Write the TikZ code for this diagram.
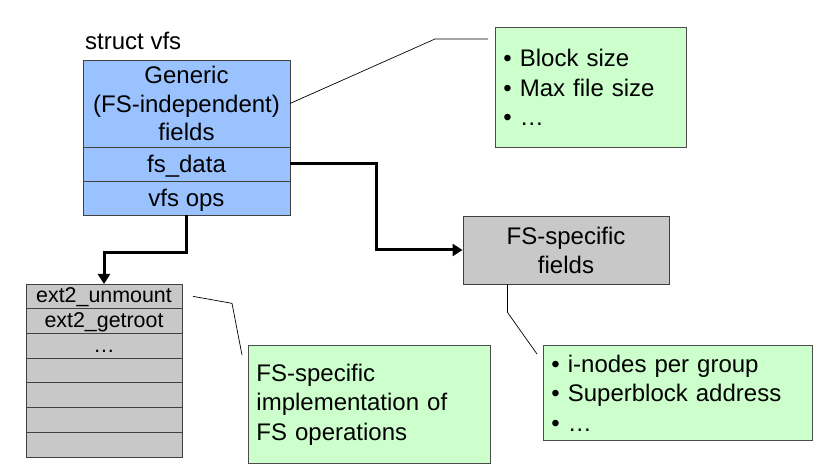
\documentclass[tikz,border=0pt]{standalone}
\usepackage{fontspec}
\setmainfont{Liberation Sans}
\usetikzlibrary{arrows.meta, positioning}

\definecolor{vfsblue}{RGB}{153,194,255}
\definecolor{notegreen}{RGB}{204,255,204}
\definecolor{fsgray}{RGB}{200,200,200}

\begin{document}
\begin{tikzpicture}[
    x=1pt, y=1pt,
    field/.style={rectangle, draw=black!75, line width=0.9pt, fill=vfsblue, minimum width=207pt, inner sep=0pt, outer sep=0pt, align=center, font=\fontsize{24}{28.5}\selectfont},
    oprow/.style={rectangle, draw=black!75, line width=0.8pt, fill=fsgray, minimum width=156pt, minimum height=24.7pt, inner sep=0pt, outer sep=0pt, text height=16pt, text depth=3pt, font=\fontsize{21.4}{24}\selectfont},
    spec/.style={rectangle, draw=black!75, line width=0.9pt, fill=fsgray, minimum width=206pt, minimum height=68pt, inner sep=0pt, align=center, font=\fontsize{24}{29}\selectfont},
    note/.style={rectangle, draw=black!70, line width=0.9pt, fill=notegreen, anchor=north west, inner xsep=8pt, inner ysep=0pt, align=left, font=\fontsize{24}{29.5}\selectfont},
    link/.style={line width=3pt, -{Triangle[length=10pt,width=12pt]}},
    callout/.style={line width=0.7pt}
]
\useasboundingbox (0,0) rectangle (825,469);

% struct vfs
\node[field, minimum height=87pt] (generic) at (186.5,365.5) {Generic\\(FS-independent)\\fields};
\node[field, minimum height=34pt, text height=20pt, text depth=2pt, below=0pt of generic] (fsdata) {fs\_data};
\node[field, minimum height=34pt, text height=20pt, text depth=2pt, below=0pt of fsdata] (vfsops) {vfs ops};
\node[anchor=base west, inner sep=0pt, font=\fontsize{24}{28}\selectfont] (title) at ([xshift=2pt,yshift=10pt]generic.north west) {struct vfs};

% operations table
\node[oprow] (op1) at (104,172.65) {ext2\_unmount};
\node[oprow, below=0pt of op1] (op2) {ext2\_getroot};
\node[oprow, below=0pt of op2] (op3) {…};
\foreach \i [count=\j from 3] in {4,...,7}
    \node[oprow, below=0pt of op\j] (op\i) {};

% FS-specific fields
\node[spec] (fsspec) at (566,219) {FS-specific\\fields};

% notes
\node[note, minimum height=120pt, text width=175pt] (blocknote) at (495,442) {• Block size\\• Max file size\\• …};
\node[note, minimum height=95pt, text width=253pt] (inodenote) at (543,124) {• i-nodes per group\\• Superblock address\\• …};
\node[note, minimum height=118pt, text width=226pt] (implnote) at (248,124) {FS-specific\\implementation of\\FS operations};

% Arrows
\draw[link] (vfsops.south) -- ++(0,-38) -| (op1.north);
\draw[link] (fsdata.east) -- ++(86,0) |- (fsspec.west);

% callouts
\draw[callout] (generic.east) -- ([xshift=-60pt,yshift=-12pt]blocknote.north west) -- ([xshift=-7pt,yshift=-12pt]blocknote.north west);
\draw[callout] ([xshift=45pt]fsspec.south west) -- ++(0,-28) -- ([xshift=-6pt,yshift=-9pt]inodenote.north west);
\draw[callout] ([xshift=11pt]op1.east) -- ++(39,-7) -- ([xshift=-6pt,yshift=-10pt]implnote.north west);

\end{tikzpicture}
\end{document}
